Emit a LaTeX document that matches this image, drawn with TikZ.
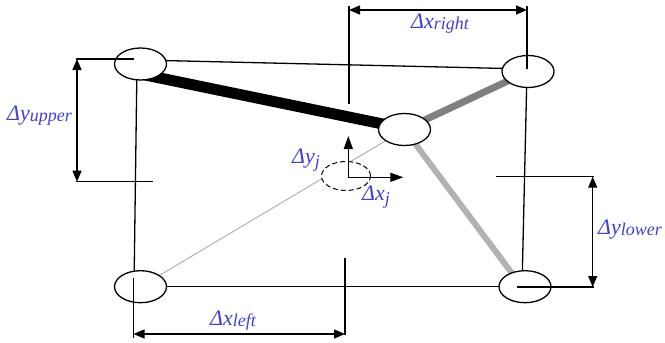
\documentclass[tikz,border=0pt]{standalone}
\usepackage{fontspec}
\setmainfont{Liberation Serif}
\usetikzlibrary{shapes.geometric,arrows.meta}
\pgfdeclarelayer{bg}
\pgfsetlayers{bg,main}
\definecolor{lblue}{RGB}{64,64,216}
\definecolor{darkbar}{RGB}{128,128,128}
\definecolor{lightbar}{RGB}{178,178,178}
\newcommand\dimlab[3]{Δ#1\raisebox{#3}{\fontsize{18}{20}\selectfont #2}}
\begin{document}
\begin{tikzpicture}[x=1pt,y=-1pt,
  joint/.style={draw,ellipse,fill=white,line width=1.3pt,minimum width=52pt,minimum height=32pt,inner sep=0pt},
  bar/.style={line width=1.3pt},
  dimarrow/.style={line width=1.3pt,{Triangle[length=11pt,width=9pt]}-{Triangle[length=11pt,width=9pt]}},
  axarrow/.style={line width=1.3pt,-{Triangle[length=13pt,width=9pt]}},
  lbl/.style={text=lblue,font=\fontsize{22}{24}\selectfont\itshape,inner sep=0pt,anchor=base west}]
\useasboundingbox (0,0) rectangle (665,343);
% joints
\node[joint] (UL) at (140.5,64) {};
\node[joint] (UR) at (528,71.5) {};
\node[joint] (J) at (404.5,129.5) {};
\node[joint] (LL) at (140.5,286.7) {};
\node[joint] (LR) at (525,286.7) {};
% members
\begin{pgfonlayer}{bg}
\draw[bar] ([yshift=4pt]UL.center) -- ([yshift=2.5pt]UR.center);
\draw[bar] ([xshift=-3.5pt]UL.center) -- ([xshift=-6.5pt]LL.center);
\draw[bar] ([xshift=-1pt]UR.center) -- ([xshift=-3pt]LR.center);
\draw[bar] (LL.center) -- (LR.center);
\draw[line width=11pt] ([yshift=-10pt]UL.center) -- ([yshift=1pt]J.center);
\draw[darkbar,line width=7pt] (J.center) -- (UR.center);
\draw[lightbar,line width=6pt] (J.center) -- ([xshift=-3pt]LR.center);
\draw[lightbar,line width=1pt] (LL.center) -- (J.center);
\end{pgfonlayer}
% displaced joint
\node[draw,ellipse,fill=white,line width=1pt,minimum width=49pt,minimum height=29pt,inner sep=0pt,dash pattern=on 5pt off 3pt] (DJ) at (346,176) {};
\coordinate (O) at (348.3,177.3);
\coordinate (OY) at (348.3,136);
\coordinate (OX) at (403.3,177.3);
\draw[axarrow] (O) -- (OY);
\draw[axarrow] (O) -- (OX);
% dimension: dy upper
\draw[bar] (76,59) -- (134,59);
\draw[bar] (76,181.7) -- (153,181.7);
\draw[dimarrow] (77,59) -- (77,181.7);
% dimension: dx right
\draw[bar] (349,6) -- (349,104);
\draw[bar] (527,6) -- (527,69);
\draw[dimarrow] (349,10) -- (527,10);
% dimension: dy lower
\draw[bar] (496,176.7) -- (594,176.7);
\draw[bar] (517,287) -- (594,287);
\draw[dimarrow] (592.7,176.7) -- (592.7,287);
% dimension: dx left
\draw[bar] (133.5,278) -- (133.5,338);
\draw[bar] (345,258) -- (345,335);
\draw[dimarrow] (133.5,334) -- (345,334);
% labels
\node[lbl] (Lxr) at (411,28) {\dimlab{x}{right}{-1pt}};
\node[lbl] (Lyu) at (7,120) {\dimlab{y}{upper}{-1pt}};
\node[lbl] (Lyj) at (292,163) {\dimlab{y}{j}{-4pt}};
\node[lbl] (Lxj) at (362,200) {\dimlab{x}{j}{-4pt}};
\node[lbl] (Lxl) at (210,325) {\dimlab{x}{left}{-1pt}};
\node[lbl] (Lyl) at (598,234) {\dimlab{y}{lower}{-1pt}};
\end{tikzpicture}
\end{document}
